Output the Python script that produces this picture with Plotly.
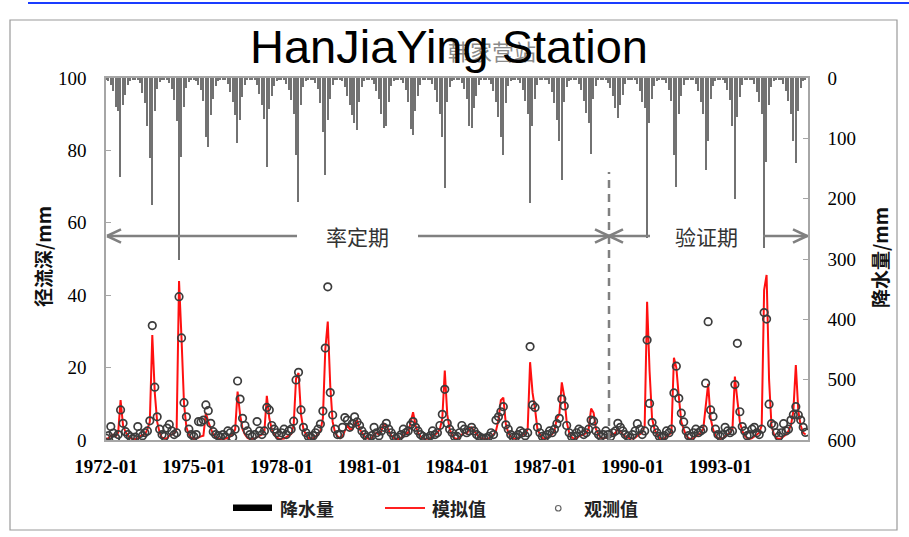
import pandas as pd
import plotly.graph_objects as go

# Monthly series, 1972-01 .. 1995-12 (one row per year, Jan..Dec)
precip_mm = [
    3, 5, 12, 22, 48, 55, 164, 45, 28, 12, 5, 2,        # 1972
    2, 4, 9, 25, 42, 80, 133, 210, 55, 18, 6, 2,        # 1973
    3, 4, 8, 18, 36, 72, 302, 131, 48, 16, 6, 2,        # 1974
    2, 5, 12, 20, 38, 98, 114, 62, 35, 14, 5, 2,        # 1975
    2, 3, 10, 24, 40, 62, 108, 70, 32, 12, 4, 2,        # 1976
    3, 4, 11, 26, 45, 68, 147, 52, 30, 14, 5, 2,        # 1977
    2, 4, 10, 20, 36, 60, 128, 205, 45, 15, 5, 2,       # 1978
    2, 3, 8, 18, 42, 89, 160, 70, 35, 12, 4, 2,         # 1979
    3, 5, 15, 30, 45, 62, 75, 86, 40, 15, 5, 2,         # 1980
    2, 4, 10, 22, 35, 60, 83, 79, 40, 14, 5, 2,         # 1981
    2, 3, 9, 20, 40, 85, 94, 55, 30, 12, 4, 2,          # 1982
    2, 4, 10, 20, 40, 60, 97, 183, 40, 15, 5, 2,        # 1983
    2, 3, 8, 18, 35, 80, 83, 50, 30, 12, 4, 2,          # 1984
    3, 4, 10, 22, 40, 65, 98, 128, 42, 14, 5, 2,        # 1985
    2, 4, 9, 20, 38, 60, 208, 80, 35, 12, 4, 2,         # 1986
    2, 3, 10, 24, 42, 70, 105, 169, 40, 15, 5, 2,       # 1987
    3, 4, 10, 20, 38, 58, 75, 126, 35, 13, 4, 2,        # 1988
    2, 3, 8, 16, 30, 50, 67, 45, 28, 10, 4, 2,          # 1989
    2, 4, 10, 22, 40, 50, 265, 75, 35, 14, 5, 2,        # 1990
    2, 3, 9, 20, 38, 128, 180, 60, 30, 12, 4, 2,        # 1991
    3, 4, 10, 22, 40, 60, 152, 105, 35, 14, 5, 2,       # 1992
    2, 4, 9, 20, 36, 80, 200, 65, 32, 12, 4, 2,         # 1993
    2, 3, 10, 24, 40, 60, 282, 140, 45, 15, 5, 2,       # 1994
    3, 4, 10, 22, 38, 60, 105, 141, 55, 16, 5, 2,       # 1995
]

simulated_mm = [
    0.3, 0.5, 1.2, 1.5, 1.0, 2.0, 11.0, 4.0, 2.2, 1.2, 0.6, 0.3,      # 1972
    0.3, 0.4, 1.0, 1.4, 1.5, 3.0, 5.0, 29.0, 13.0, 5.0, 2.0, 0.6,     # 1973
    0.4, 0.5, 1.2, 1.6, 1.8, 3.0, 43.9, 28.0, 10.0, 3.5, 1.5, 0.6,    # 1974
    0.3, 0.4, 0.8, 1.0, 1.2, 7.5, 5.0, 3.0, 1.5, 0.8, 0.4, 0.2,       # 1975
    0.2, 0.3, 0.6, 1.0, 1.5, 3.0, 13.4, 7.0, 3.0, 1.5, 0.6, 0.3,      # 1976
    0.3, 0.4, 0.8, 1.2, 1.5, 2.5, 12.2, 6.0, 3.0, 1.5, 0.7, 0.3,      # 1977
    0.3, 0.4, 0.8, 1.2, 1.6, 4.0, 17.0, 18.5, 7.0, 3.0, 1.5, 0.6,     # 1978
    0.4, 0.5, 1.0, 1.5, 2.5, 6.0, 25.0, 32.7, 15.0, 5.0, 2.0, 1.0,    # 1979
    0.5, 1.0, 2.5, 4.0, 3.0, 3.0, 4.5, 5.5, 3.0, 2.0, 1.0, 0.5,       # 1980
    0.3, 0.6, 1.5, 2.0, 1.5, 2.5, 4.5, 4.0, 2.5, 1.2, 0.6, 0.3,       # 1981
    0.3, 0.5, 1.2, 1.8, 2.0, 5.0, 7.7, 4.0, 2.0, 1.0, 0.5, 0.3,       # 1982
    0.3, 0.5, 1.0, 1.5, 2.0, 3.0, 6.0, 19.2, 7.0, 3.0, 1.2, 0.5,      # 1983
    0.3, 0.6, 1.5, 2.0, 1.8, 3.0, 3.5, 2.5, 1.5, 0.8, 0.5, 0.3,       # 1984
    0.3, 0.5, 1.0, 1.5, 2.5, 5.5, 11.0, 11.7, 4.5, 2.0, 1.0, 0.5,     # 1985
    0.3, 0.5, 1.0, 1.5, 1.5, 3.0, 21.5, 13.0, 8.5, 3.0, 1.5, 0.6,     # 1986
    0.3, 0.5, 1.2, 1.5, 2.5, 6.0, 7.0, 15.9, 12.0, 5.0, 2.0, 0.8,     # 1987
    0.3, 0.5, 1.0, 1.2, 1.5, 2.0, 3.0, 8.7, 7.5, 3.0, 1.5, 0.6,       # 1988
    0.4, 0.6, 1.2, 1.5, 1.5, 2.0, 3.0, 2.5, 1.5, 1.0, 0.6, 0.4,       # 1989
    0.4, 0.6, 1.2, 1.5, 2.0, 4.0, 38.2, 19.0, 6.0, 3.0, 1.5, 0.6,     # 1990
    0.3, 0.5, 1.0, 1.5, 2.0, 22.7, 20.0, 12.0, 5.0, 3.0, 1.2, 0.5,    # 1991
    0.3, 0.5, 1.0, 1.5, 2.0, 3.0, 10.0, 15.5, 6.0, 3.0, 1.2, 0.5,     # 1992
    0.3, 0.5, 1.0, 1.5, 2.0, 3.0, 17.5, 11.0, 5.0, 2.5, 1.2, 0.5,     # 1993
    0.3, 0.5, 1.0, 1.5, 2.0, 4.0, 41.4, 45.6, 16.6, 4.0, 1.5, 0.6,    # 1994
    0.3, 0.5, 1.0, 1.5, 2.5, 4.0, 8.0, 20.7, 8.0, 4.0, 2.0, 1.5,      # 1995
]

observed_mm = [
    0.5, 1.2, 3.7, 1.9, 0.6, 1.5, 8.3, 4.6, 2.3, 1.5, 0.9, 0.4,       # 1972
    0.8, 3.7, 1.8, 1.2, 2.0, 2.5, 5.3, 31.6, 14.6, 6.4, 3.0, 1.5,     # 1973
    1.0, 3.3, 4.3, 2.5, 1.5, 2.0, 39.6, 28.2, 10.3, 6.4, 3.0, 1.5,    # 1974
    1.0, 1.5, 5.1, 5.0, 5.5, 9.7, 8.1, 4.6, 2.3, 1.5, 1.2, 0.8,       # 1975
    1.5, 0.8, 2.5, 2.0, 0.7, 3.0, 16.3, 11.3, 6.0, 4.0, 2.5, 1.5,     # 1976
    1.0, 1.5, 5.1, 2.5, 1.5, 2.5, 9.0, 8.3, 4.0, 3.0, 2.0, 1.2,       # 1977
    2.0, 3.0, 1.5, 2.5, 3.0, 5.2, 16.6, 18.7, 8.3, 3.5, 2.0, 1.0,     # 1978
    0.8, 1.2, 2.0, 3.0, 4.4, 8.0, 25.4, 42.3, 13.1, 6.9, 3.0, 1.5,    # 1979
    1.5, 3.5, 6.2, 5.5, 3.5, 4.5, 6.4, 5.0, 4.0, 2.5, 1.5, 0.8,       # 1980
    0.5, 1.2, 3.5, 2.0, 1.2, 2.5, 3.5, 4.6, 3.0, 2.0, 1.0, 0.5,       # 1981
    0.8, 1.5, 3.0, 2.0, 2.5, 4.2, 5.1, 3.5, 2.5, 1.5, 1.0, 0.5,       # 1982
    0.6, 1.2, 2.5, 1.5, 2.0, 4.0, 7.1, 14.0, 4.6, 3.0, 2.0, 1.0,      # 1983
    1.0, 2.0, 4.0, 3.0, 2.0, 2.5, 3.5, 2.5, 1.5, 1.0, 0.6, 0.4,       # 1984
    0.6, 1.0, 2.0, 1.5, 5.5, 6.4, 7.8, 9.2, 4.2, 3.0, 1.5, 0.8,       # 1985
    0.8, 1.5, 2.5, 2.0, 1.2, 2.0, 25.8, 9.7, 9.0, 3.5, 2.0, 1.0,      # 1986
    0.8, 1.5, 2.5, 2.0, 3.0, 4.5, 6.0, 11.3, 9.4, 4.0, 2.0, 1.0,      # 1987
    1.0, 2.0, 3.0, 2.5, 1.5, 2.0, 3.0, 5.5, 5.2, 2.5, 1.5, 1.0,       # 1988
    1.5, 2.5, 1.5, 1.0, 2.0, 2.5, 4.6, 3.5, 2.5, 1.5, 1.0, 0.6,       # 1989
    1.5, 2.5, 4.5, 3.0, 1.5, 2.5, 27.6, 10.1, 4.8, 3.0, 2.0, 1.0,     # 1990
    0.8, 1.2, 2.5, 2.0, 3.0, 13.0, 20.4, 11.5, 7.4, 5.0, 2.5, 1.2,    # 1991
    1.0, 2.0, 3.0, 2.0, 2.5, 3.0, 15.7, 32.7, 8.3, 6.5, 3.0, 1.5,     # 1992
    1.0, 1.5, 3.5, 2.5, 2.0, 2.5, 15.3, 26.7, 7.8, 3.7, 2.5, 1.2,     # 1993
    1.5, 3.0, 3.5, 2.0, 1.5, 3.0, 35.2, 33.4, 9.9, 4.5, 4.0, 2.0,     # 1994
    1.0, 2.0, 4.5, 2.5, 3.0, 5.5, 7.0, 9.2, 6.9, 5.5, 3.5, 2.1,       # 1995
]

runoff_ticks = [0, 20, 40, 60, 80, 100]
precip_ticks = [0, 100, 200, 300, 400, 500, 600]

months = pd.date_range("1972-01-01", periods=len(precip_mm), freq="MS")

# Plot-area geometry (pixels) used to place decorations in paper units
W_FIG, H_FIG = 909, 537
L, R, T, B = 106, 808, 78, 440


def px(x):
    return (x - L) / (R - L)


def py(y):
    return (B - y) / (B - T)


GREY = "#808080"
CJK = "Noto Sans CJK SC"
SERIF = "Liberation Serif"

fig = go.Figure()

fig.add_trace(go.Bar(
    x=months, y=precip_mm, yaxis="y2", name="降水量",
    marker=dict(color="#727272", line=dict(width=0)),
    width=0.5 * 30.4 * 86400000, showlegend=False,
))
fig.add_trace(go.Scatter(
    x=months, y=simulated_mm, mode="lines", name="模拟值",
    line=dict(color="#ff1010", width=2), showlegend=False,
))
fig.add_trace(go.Scatter(
    x=months, y=observed_mm, mode="markers", name="观测值",
    marker=dict(symbol="circle-open", size=7.5, color="#3c3c3c",
                line=dict(width=1.7, color="#3c3c3c")),
    showlegend=False,
))

shapes = []
annotations = []


def label(text, x, y, size, color, family=CJK, angle=0, xanchor="center"):
    annotations.append(dict(text=text, xref="paper", yref="paper",
                            x=x, y=y, xanchor=xanchor, yanchor="middle",
                            textangle=angle, showarrow=False,
                            font=dict(family=family, size=size, color=color)))


# Page frame and top rule
shapes.append(dict(type="rect", xref="paper", yref="paper",
                   x0=px(10), x1=px(897), y0=py(530), y1=py(20),
                   line=dict(color="#9a9a9a", width=1.2), layer="below"))
shapes.append(dict(type="line", xref="paper", yref="paper",
                   x0=px(28), x1=px(909), y0=py(3), y1=py(3),
                   line=dict(color="#1a3cff", width=2)))

# Period divider
shapes.append(dict(type="line", xref="paper", yref="y",
                   x0=px(609), x1=px(609), y0=0, y1=74,
                   line=dict(color=GREY, width=2.5, dash="8px,6px")))

# Period arrows
ay = py(236)
dx, dy = 14 / (R - L), 6.7 / (B - T)


def hline(x0, x1):
    shapes.append(dict(type="line", xref="paper", yref="paper",
                       x0=px(x0), x1=px(x1), y0=ay, y1=ay,
                       line=dict(color=GREY, width=2.5)))


def chevron(xtip, direction):
    xt = px(xtip)
    for s in (1, -1):
        shapes.append(dict(type="line", xref="paper", yref="paper",
                           x0=xt, y0=ay, x1=xt - direction * dx, y1=ay + s * dy,
                           line=dict(color=GREY, width=2.5)))


hline(107, 297)
hline(418, 609)
hline(609, 650)
hline(763, 808)
chevron(107, -1)
chevron(609, 1)
chevron(609, -1)
chevron(807, 1)

label("率定期", px(357), ay, 21, "#333333")
label("验证期", px(706), ay, 21, "#333333")

# Titles (the Chinese station name sits behind the English one)
label("韩家营站", px(492), py(50), 22, "#8a8a8a")
label("HanJiaYing Station", px(449), py(47), 47, "#000000", family="Liberation Sans")

# Axis titles
label("<b>径流深/mm</b>", px(42), py(257), 19, "#111111", angle=-90)
label("<b>降水量/mm</b>", px(879), py(258), 19, "#111111", angle=-90)

# Legend
ly = py(508)
shapes.append(dict(type="rect", xref="paper", yref="paper",
                   x0=px(233), x1=px(272), y0=py(511), y1=py(504.5),
                   fillcolor="#000000", line=dict(width=0)))
shapes.append(dict(type="line", xref="paper", yref="paper",
                   x0=px(385), x1=px(425), y0=ly, y1=ly,
                   line=dict(color="#ff2020", width=2)))
shapes.append(dict(type="circle", xref="paper", yref="paper",
                   x0=px(555.5), x1=px(561), y0=py(511), y1=py(505.5),
                   line=dict(color="#666666", width=1.2)))
for name, x0 in (("降水量", 278), ("模拟值", 430), ("观测值", 582)):
    label("<b>" + name + "</b>", px(x0), ly, 18, "#222222", xanchor="left")

tick_font = dict(family=SERIF, size=19, color="#000000")

fig.update_layout(
    width=W_FIG, height=H_FIG,
    margin=dict(l=L, r=W_FIG - R, t=T, b=H_FIG - B),
    paper_bgcolor="white", plot_bgcolor="white",
    bargap=0,
    shapes=shapes, annotations=annotations,
    xaxis=dict(
        type="date", range=["1972-01-01", "1995-12-31"],
        tick0="1972-01-01", dtick="M36", tickformat="%Y-%m",
        showgrid=False, zeroline=False, ticks="",
        showline=True, linecolor="#a6a6a6", linewidth=1.5, mirror=True,
        tickfont=tick_font, ticklabelstandoff=8,
        tickprefix="<b>", ticksuffix="</b>",
    ),
    yaxis=dict(
        range=[0, 100], tickvals=runoff_ticks,
        showgrid=False, zeroline=False,
        ticks="inside", ticklen=5, tickcolor="#a6a6a6", tickwidth=1,
        showline=True, linecolor="#a6a6a6", linewidth=1.5,
        tickfont=tick_font, ticklabelstandoff=14,
        tickprefix="<b>", ticksuffix="</b>",
    ),
    yaxis2=dict(
        range=[600, 0], tickvals=precip_ticks, overlaying="y", side="right",
        showgrid=False, zeroline=False,
        ticks="inside", ticklen=5, tickcolor="#a6a6a6", tickwidth=1,
        showline=True, linecolor="#a6a6a6", linewidth=1.5,
        tickfont=tick_font, ticklabelstandoff=14,
        tickprefix="<b>", ticksuffix="</b>",
    ),
)

fig.write_html("out.html")
